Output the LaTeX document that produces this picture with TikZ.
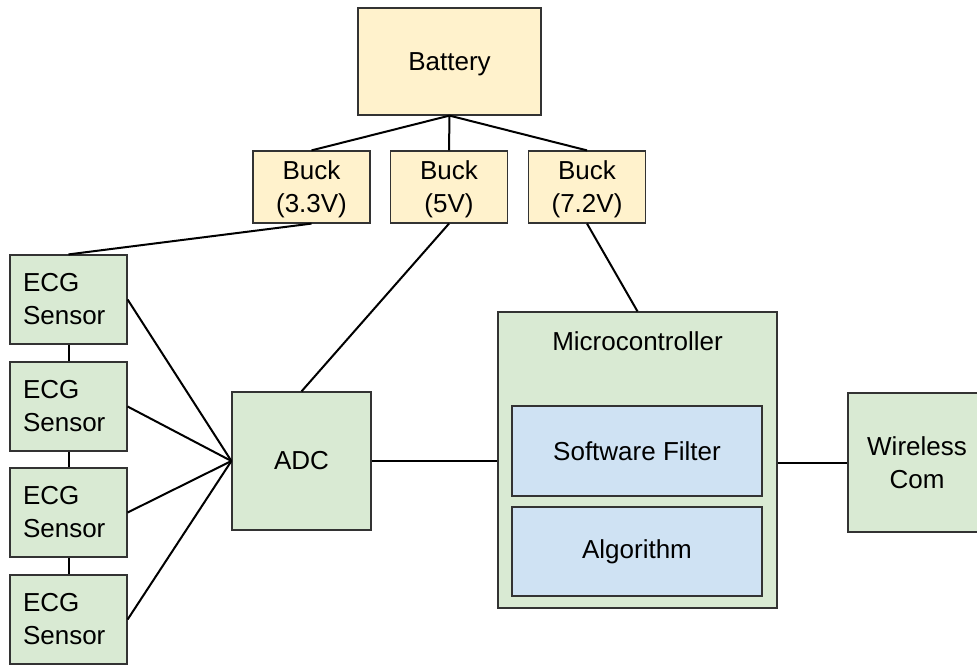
\documentclass[tikz,border=0pt]{standalone}
\usepackage{fontspec}
\setmainfont{Liberation Sans}
\definecolor{pwr}{HTML}{FFF2CC}
\definecolor{hw}{HTML}{D9EAD3}
\definecolor{sw}{HTML}{CFE2F3}
\definecolor{rim}{HTML}{333333}
\begin{document}
\begin{tikzpicture}[
      x = .5pt, y = -.5pt,
      font = \fontsize{13}{16.5}\selectfont,
      supply/.style = {
        rectangle,
        draw = rim, line width = .6pt,
        fill = pwr,
        align = center,
        inner sep = 0pt,
        text depth = 0pt,
      },
      part/.style = {
        rectangle,
        draw = rim, line width = .6pt,
        fill = hw,
        align = center,
        inner sep = 0pt,
      },
      sensor/.style = {
        part,
        align = left,
        text width = 45.5pt,
        inner xsep = 6.5pt,
        minimum height = 44.5pt,
      },
      code/.style = {
        rectangle,
        draw = rim, line width = .6pt,
        fill = sw,
        align = center,
        inner sep = 0pt,
        minimum width = 125pt,
      },
      wire/.style = {
        draw = black,
        line width = 1pt,
      }
    ]
    \clip (0,0) rectangle (977,664);
    % power
    \node[supply, minimum width = 91.5pt, minimum height = 53.5pt] (bat) at (449.5,61.5) {Battery};
    \node[supply, minimum width = 58.5pt, minimum height = 36pt] (b33) at (311.5,187) {Buck\\(3.3V)};
    \node[supply, minimum width = 58.5pt, minimum height = 36pt] (b5) at (449,187) {Buck\\(5V)};
    \node[supply, minimum width = 58.5pt, minimum height = 36pt] (b72) at (587,187) {Buck\\(7.2V)};
    % sensors
    \node[sensor] (ecg1) at (68.5,299.5) {ECG\\Sensor};
    \node[sensor] (ecg2) at (68.5,406.5) {ECG\\Sensor};
    \node[sensor] (ecg3) at (68.5,512.5) {ECG\\Sensor};
    \node[sensor] (ecg4) at (68.5,619.5) {ECG\\Sensor};
    \node[part, minimum width = 69.5pt, minimum height = 69pt] (adc) at (301.5,461) {ADC};
    % processing
    \node[part, minimum width = 139.5pt, minimum height = 148pt,
      label = {[anchor = center, yshift = -15pt]north:Microcontroller}] (mcu) at (637.5,460) {};
    \node[code, minimum height = 45pt] (swf) at (637,451) {Software Filter};
    \node[code, minimum height = 44.5pt] (alg) at (637,551.5) {Algorithm};
    \node[part, minimum width = 69pt, minimum height = 69.5pt] (wc) at (917,462.5) {Wireless\\Com};
    % wiring
    \draw[wire] (bat.south) -- (b33.north);
    \draw[wire] (bat.south) -- (b5.north);
    \draw[wire] (bat.south) -- (b72.north);
    \draw[wire] (b33.south) -- (ecg1.north);
    \draw[wire] (b5.south) -- (adc.north);
    \draw[wire] (b72.south) -- (mcu.north);
    \foreach \a/\b in {ecg1/ecg2, ecg2/ecg3, ecg3/ecg4}
      \draw[wire] (\a.south) -- (\b.north);
    \foreach \s in {ecg1, ecg2, ecg3, ecg4}
      \draw[wire] (\s.east) -- (adc.west);
    \draw[wire] (adc.east) -- (mcu.west |- adc.east);
    \draw[wire] (mcu.east |- wc.west) -- (wc.west);
  \end{tikzpicture}
\end{document}
